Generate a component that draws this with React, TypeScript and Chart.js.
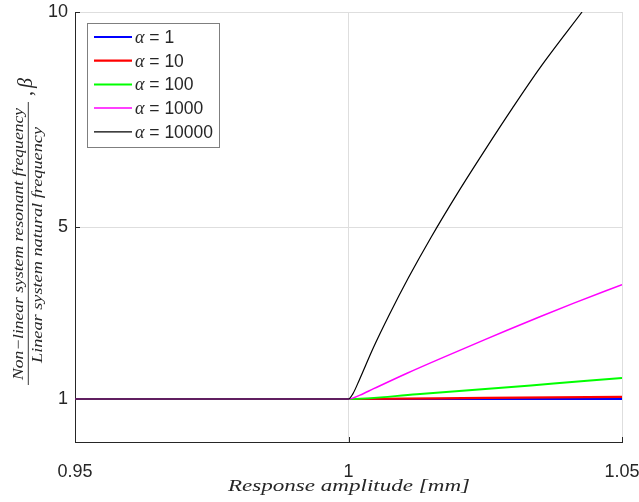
import React, { useEffect, useRef } from "react";
import { Chart, registerables } from "chart.js";

Chart.register(...registerables);

// ---- data ----
const X_TICKS = [0.95, 1, 1.05];
const Y_TICKS = [1, 5, 10];
const ALPHAS = ["1", "10", "100", "1000", "10000"];
const COLORS = ["#0000ff", "#ff0000", "#00ff00", "#ff00ff", "#000000"];

const a1X = [0.95, 1.0, 1.05];
const a1Y = [1, 1, 1.005];

const a10X = [0.95, 1.0, 1.025, 1.05];
const a10Y = [1, 1, 1.025, 1.05];

const a100X = [0.95, 1.0, 1.0125, 1.025, 1.0375, 1.05];
const a100Y = [1, 1, 1.11, 1.23, 1.36, 1.49];

const a1000X = [0.95, 1.0, 1.0021, 1.0046, 1.0107, 1.0168, 1.0229, 1.029, 1.0351, 1.0412, 1.05];
const a1000Y = [1, 1, 1.09, 1.24, 1.6, 1.94, 2.27, 2.6, 2.92, 3.23, 3.66];

const a10000X = [0.95, 1.0, 1.0008, 1.002, 1.0045, 1.0075, 1.011, 1.015, 1.02, 1.025, 1.03, 1.035, 1.0427];
const a10000Y = [1, 1, 1.12, 1.45, 2.18, 2.97, 3.83, 4.74, 5.8, 6.8, 7.77, 8.7, 10.0];

const SERIES_X = [a1X, a10X, a100X, a1000X, a10000X];
const SERIES_Y = [a1Y, a10Y, a100Y, a1000Y, a10000Y];
const WIDTHS = [2.2, 2.2, 2, 1.5, 1.2];

const Y_NUM = "Non\u2212linear system resonant frequency";
const Y_DEN = "Linear system natural frequency";
const X_TITLE = "Response amplitude [mm]";

const AXIS_COLOR = "#262626";
const SANS = "'Liberation Sans', Arial, sans-serif";
const SERIF = "'Liberation Serif', 'Times New Roman', serif";

function drawStretched(ctx: CanvasRenderingContext2D, text: string, cx: number, y: number, target: number) {
  const w = ctx.measureText(text).width;
  const sx = target / w;
  ctx.save();
  ctx.scale(sx, 1);
  ctx.textAlign = "center";
  ctx.fillText(text, cx / sx, y);
  ctx.restore();
}

const decor = {
  id: "decor",
  beforeDatasetsDraw(chart: any) {
    const ctx: CanvasRenderingContext2D = chart.ctx;
    const xs = chart.scales.x;
    const ys = chart.scales.y;
    const a = chart.chartArea;
    ctx.save();
    ctx.strokeStyle = AXIS_COLOR;
    ctx.lineWidth = 1;
    ctx.beginPath();
    for (const v of X_TICKS) {
      const px = Math.round(xs.getPixelForValue(v)) + 0.5;
      ctx.moveTo(px, a.bottom);
      ctx.lineTo(px, a.bottom - 5);
    }
    for (const v of Y_TICKS) {
      const py = Math.round(ys.getPixelForValue(v)) + 0.5;
      ctx.moveTo(a.left, py);
      ctx.lineTo(a.left + 5, py);
    }
    ctx.stroke();
    ctx.restore();
  },
  afterDraw(chart: any) {
    const ctx: CanvasRenderingContext2D = chart.ctx;
    ctx.save();
    // legend
    ctx.fillStyle = "#ffffff";
    ctx.fillRect(87, 23, 132, 124);
    ctx.strokeStyle = "#7f7f7f";
    ctx.lineWidth = 1;
    ctx.strokeRect(87.5, 23.5, 132, 124);
    ALPHAS.forEach((al, i) => {
      const cy = 37 + i * 23.7;
      ctx.strokeStyle = COLORS[i];
      ctx.lineWidth = WIDTHS[i];
      ctx.beginPath();
      ctx.moveTo(94, cy);
      ctx.lineTo(132, cy);
      ctx.stroke();
      ctx.fillStyle = AXIS_COLOR;
      ctx.textBaseline = "alphabetic";
      ctx.textAlign = "left";
      ctx.font = `italic 18px ${SERIF}`;
      ctx.fillText("\u03b1", 135, cy + 6);
      const aw = ctx.measureText("\u03b1").width;
      ctx.font = `17.5px ${SANS}`;
      ctx.fillText(" = " + al, 135 + aw, cy + 6);
    });

    // x title
    ctx.fillStyle = AXIS_COLOR;
    ctx.textBaseline = "alphabetic";
    ctx.font = `italic 16px ${SERIF}`;
    drawStretched(ctx, X_TITLE, 349, 491, 242);

    // y title (fraction), rotated
    ctx.save();
    ctx.translate(0, 244);
    ctx.rotate(-Math.PI / 2);
    ctx.font = `italic 15px ${SERIF}`;
    drawStretched(ctx, Y_NUM, 0, 23, 272);
    drawStretched(ctx, Y_DEN, -1, 41.5, 236);
    ctx.strokeStyle = AXIS_COLOR;
    ctx.lineWidth = 0.9;
    ctx.beginPath();
    ctx.moveTo(-141, 28.3);
    ctx.lineTo(142, 28.3);
    ctx.stroke();
    ctx.textAlign = "left";
    ctx.font = `20px ${SERIF}`;
    ctx.fillText(",", 148, 32);
    ctx.font = `italic 20px ${SERIF}`;
    ctx.fillText("\u03b2", 156, 32);
    ctx.restore();

    ctx.restore();
  },
};

export default function App() {
  const ref = useRef<HTMLCanvasElement | null>(null);
  useEffect(() => {
    document.body.style.margin = "0";
    const canvas = ref.current;
    if (!canvas) return;
    const datasets = SERIES_X.map((xs, i) => ({
      label: "\u03b1 = " + ALPHAS[i],
      data: xs.map((x, j) => ({ x, y: SERIES_Y[i][j] })),
      borderColor: COLORS[i],
      backgroundColor: COLORS[i],
      borderWidth: WIDTHS[i],
      pointRadius: 0,
      fill: false,
      cubicInterpolationMode: "monotone" as const,
      order: 5 - i,
    }));
    const chart = new Chart(canvas, {
      type: "line",
      data: { datasets },
      plugins: [decor],
      options: {
        animation: false,
        responsive: false,
        devicePixelRatio: 1,
        layout: { padding: { top: 12, right: 17, left: 0, bottom: 0 } },
        plugins: { legend: { display: false }, tooltip: { enabled: false } },
        scales: {
          x: {
            type: "linear",
            min: 0.95,
            max: 1.05,
            afterBuildTicks: (s: any) => {
              s.ticks = X_TICKS.map((v) => ({ value: v }));
            },
            afterFit: (s: any) => {
              s.height = 60;
              s.paddingLeft = 0;
              s.paddingRight = 0;
            },
            ticks: {
              font: { family: SANS, size: 18 },
              color: AXIS_COLOR,
              padding: 19,
              maxRotation: 0,
              autoSkip: false,
              callback: (v: any) => String(v),
            },
            grid: { color: "#dedede", drawTicks: false },
            border: { color: AXIS_COLOR, width: 1 },
          },
          y: {
            type: "linear",
            min: 0,
            max: 10,
            afterBuildTicks: (s: any) => {
              s.ticks = Y_TICKS.map((v) => ({ value: v }));
            },
            afterFit: (s: any) => {
              s.width = 75;
              s.paddingTop = 0;
              s.paddingBottom = 0;
            },
            ticks: {
              font: { family: SANS, size: 18 },
              color: AXIS_COLOR,
              padding: 7,
              autoSkip: false,
              callback: (v: any) => String(v),
            },
            grid: { color: "#dedede", drawTicks: false },
            border: { color: AXIS_COLOR, width: 1 },
          },
        },
      },
    });
    return () => chart.destroy();
  }, []);
  return <canvas ref={ref} width={639} height={502} style={{ display: "block", width: 639, height: 502 }} />;
}
